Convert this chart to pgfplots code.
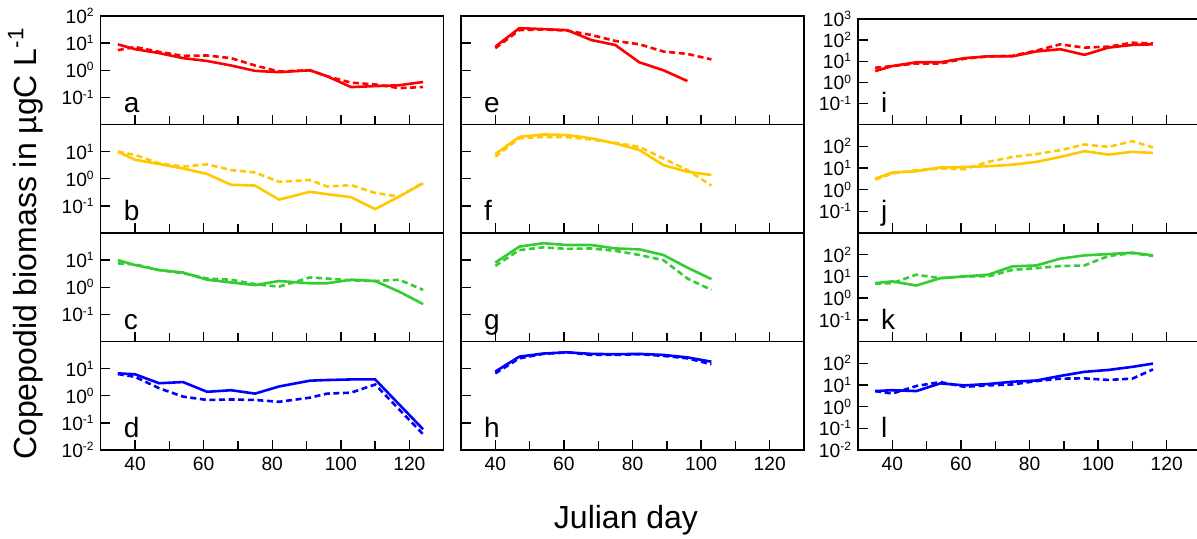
\documentclass[border=0pt]{standalone}
\usepackage{fontspec}
\setmainfont{Liberation Sans}
\usepackage{pgfplots}
\pgfplotsset{compat=1.18}

\definecolor{cred}{RGB}{255,0,0}
\definecolor{cyel}{RGB}{255,200,0}
\definecolor{cgrn}{RGB}{50,205,50}
\definecolor{cblu}{RGB}{0,0,255}

% tick label 10^n in the text font
\newcommand\tenp[1]{10\raisebox{3.4pt}{\fontsize{6}{6}\selectfont#1}}

\pgfplotsset{
  cpanel/.style={
    scale only axis, width=171.5pt, height=54.25pt, anchor=south west,
    xmin=30, xmax=130, ymin=0.01, ymax=100,
    xtick={40,60,80,100,120}, minor xtick={50,70,90,110},
    xticklabels={}, ytick={0.1,1,10}, yticklabels={},
    xtick pos=left, ytick pos=left, tick align=inside,
    major tick length=4.8pt, minor tick length=4.3pt, yminorticks=false,
    axis line style={line width=0.7pt},
    tick style={black, line width=0.7pt},
    tick label style={font=\fontsize{9.6}{10}\selectfont},
  },
  cthird/.style={ymin=0.01, ymax=1000, ytick={0.1,1,10,100},
    yticklabels={\tenp{-1},\tenp{0},\tenp{1},\tenp{2}}},
  cbottom/.style={xticklabels={40,60,80,100,120}},
  csol/.style={line width=1.3pt, no marks},
  cdas/.style={line width=1.3pt, no marks, dash pattern=on 3pt off 1.8pt},
}
\tikzset{plet/.style={anchor=base west, font=\fontsize{14}{16}\selectfont}}

\begin{document}
\begin{tikzpicture}

%%%%% column 1
\begin{semilogyaxis}[cpanel, at={(50.35pt,206.75pt)}, ytick={0.1,1,10,100},
  yticklabels={\tenp{-1},\tenp{0},\tenp{1},\tenp{2}}]
\addplot[csol, cred] coordinates {(35,9) (40,6) (47,4.3) (54,2.8) (61,2.2) (68,1.5) (75,0.95) (82,0.85) (91,1.0) (96,0.6) (103,0.24) (110,0.26) (117,0.28) (124,0.37)};
\addplot[cdas, cred] coordinates {(35,5.5) (40,7.2) (47,4.8) (54,3.4) (61,3.5) (68,2.8) (75,1.5) (82,0.9) (91,1.0) (96,0.6) (103,0.35) (110,0.3) (117,0.22) (124,0.24)};
\node[plet] at (rel axis cs:0.047,0.115) {a};
\end{semilogyaxis}

\begin{semilogyaxis}[cpanel, at={(50.35pt,152.5pt)}, yticklabels={\tenp{-1},\tenp{0},\tenp{1}}]
\addplot[csol, cyel] coordinates {(35,10) (40,5) (47,3.5) (54,2.4) (61,1.5) (68,0.6) (75,0.56) (82,0.17) (91,0.33) (96,0.27) (103,0.21) (110,0.076) (117,0.22) (124,0.68)};
\addplot[cdas, cyel] coordinates {(35,10) (40,7.6) (47,3.7) (54,2.8) (61,3.4) (68,2.1) (75,1.7) (82,0.77) (91,0.9) (96,0.52) (103,0.58) (110,0.30) (117,0.22) (124,0.72)};
\node[plet] at (rel axis cs:0.047,0.115) {b};
\end{semilogyaxis}

\begin{semilogyaxis}[cpanel, at={(50.35pt,98.25pt)}, yticklabels={\tenp{-1},\tenp{0},\tenp{1}}]
\addplot[csol, cgrn] coordinates {(35,10) (40,6.6) (47,4.3) (54,3.5) (61,1.9) (68,1.5) (75,1.2) (82,1.7) (91,1.4) (96,1.4) (103,1.9) (110,1.7) (117,0.69) (124,0.24)};
\addplot[cdas, cgrn] coordinates {(35,7.6) (40,7) (47,4.3) (54,3.3) (61,2.1) (68,1.9) (75,1.3) (82,1.05) (91,2.3) (96,2.1) (103,1.8) (110,1.7) (117,1.9) (124,0.8)};
\node[plet] at (rel axis cs:0.047,0.115) {c};
\end{semilogyaxis}

\begin{semilogyaxis}[cpanel, cbottom, at={(50.35pt,44pt)}, ytick={0.01,0.1,1,10},
  yticklabels={\tenp{-2},\tenp{-1},\tenp{0},\tenp{1}}]
\addplot[csol, cblu] coordinates {(35,6.7) (40,6.2) (47,2.9) (54,3.2) (61,1.4) (68,1.6) (75,1.2) (82,2.2) (91,3.6) (96,3.8) (103,4.0) (110,4.0) (124,0.058)};
\addplot[cdas, cblu] coordinates {(35,6.3) (40,5.0) (47,1.9) (54,0.93) (61,0.7) (68,0.73) (75,0.7) (82,0.6) (91,0.85) (96,1.2) (103,1.3) (110,2.6) (124,0.038)};
\node[plet] at (rel axis cs:0.047,0.115) {d};
\end{semilogyaxis}

%%%%% column 2
\begin{semilogyaxis}[cpanel, at={(230.5pt,206.75pt)}]
\addplot[csol, cred] coordinates {(40,7.4) (47,35.6) (54,33) (61,30) (68,13) (75,8.5) (82,1.96) (89,1.0) (96,0.40)};
\addplot[cdas, cred] coordinates {(40,6.5) (47,30) (54,32) (61,29) (68,20) (75,12) (82,9.1) (89,4.9) (96,4.0) (103,2.5)};
\node[plet] at (rel axis cs:0.047,0.115) {e};
\end{semilogyaxis}

\begin{semilogyaxis}[cpanel, at={(230.5pt,152.5pt)}]
\addplot[csol, cyel] coordinates {(40,8.1) (47,35) (54,43) (61,41) (68,31) (75,20) (82,11.5) (89,3.2) (96,1.8) (103,1.38)};
\addplot[cdas, cyel] coordinates {(40,6.5) (47,31) (54,35) (61,34) (68,28) (75,21) (82,15) (89,5.6) (96,2.1) (103,0.56)};
\node[plet] at (rel axis cs:0.047,0.115) {f};
\end{semilogyaxis}

\begin{semilogyaxis}[cpanel, at={(230.5pt,98.25pt)}]
\addplot[csol, cgrn] coordinates {(40,8.1) (47,31.5) (54,42) (61,36) (68,36) (75,27) (82,25) (89,15.5) (96,5.3) (103,2.0)};
\addplot[cdas, cgrn] coordinates {(40,6.1) (47,23.5) (54,29.5) (61,26) (68,27) (75,22) (82,15.5) (89,10) (96,2.1) (103,0.8)};
\node[plet] at (rel axis cs:0.047,0.115) {g};
\end{semilogyaxis}

\begin{semilogyaxis}[cpanel, cbottom, at={(230.5pt,44pt)}]
\addplot[csol, cblu] coordinates {(40,7.8) (47,27.7) (54,36) (61,40) (68,35) (75,34) (82,35) (89,32) (96,26) (103,18)};
\addplot[cdas, cblu] coordinates {(40,6.7) (47,24) (54,35) (61,40) (68,32) (75,32) (82,34) (89,29.5) (96,24) (103,14.5)};
\node[plet] at (rel axis cs:0.047,0.115) {h};
\end{semilogyaxis}

%%%%% column 3
\begin{semilogyaxis}[cpanel, cthird, at={(429pt,206.75pt)}, height=52.75pt,
  ytick={0.1,1,10,100,1000}, yticklabels={\tenp{-1},\tenp{0},\tenp{1},\tenp{2},\tenp{3}}]
\addplot[csol, cred] coordinates {(35,3.4) (40,5.9) (47,8.9) (54,8.9) (61,14) (68,17) (75,17) (82,29) (89,37) (96,20) (103,44) (110,59) (116,63)};
\addplot[cdas, cred] coordinates {(35,4.9) (40,5.9) (47,7.8) (54,7.8) (61,13) (68,17) (75,18) (82,32) (89,63) (96,44) (103,49) (110,75) (116,70)};
\node[plet] at (rel axis cs:0.047,0.118) {i};
\end{semilogyaxis}

\begin{semilogyaxis}[cpanel, cthird, at={(429pt,152.5pt)}]
\addplot[csol, cyel] coordinates {(35,3.2) (40,6.1) (47,7) (54,10.5) (61,11) (68,12) (75,14) (82,19) (89,32) (96,59) (103,41) (110,55) (116,49)};
\addplot[cdas, cyel] coordinates {(35,2.9) (40,5.5) (47,7.8) (54,9.3) (61,8.7) (68,19) (75,32) (82,43) (89,66) (96,120) (103,93) (110,170) (116,87)};
\node[plet] at (rel axis cs:0.047,0.115) {j};
\end{semilogyaxis}

\begin{semilogyaxis}[cpanel, cthird, at={(429pt,98.25pt)}]
\addplot[csol, cgrn] coordinates {(35,4.9) (40,5.9) (47,3.8) (54,8.3) (61,10) (68,12) (75,29) (82,32) (89,66) (96,93) (103,107) (110,124) (116,93)};
\addplot[cdas, cgrn] coordinates {(35,4.6) (40,4.9) (47,12) (54,8.3) (61,10) (68,10) (75,20) (82,24) (89,30) (96,32) (103,87) (110,119) (116,87)};
\node[plet] at (rel axis cs:0.047,0.115) {k};
\end{semilogyaxis}

\begin{semilogyaxis}[cpanel, cthird, cbottom, at={(429pt,44pt)},
  ytick={0.01,0.1,1,10,100}, yticklabels={\tenp{-2},\tenp{-1},\tenp{0},\tenp{1},\tenp{2}}]
\addplot[csol, cblu] coordinates {(35,5.2) (40,5.7) (47,5.2) (54,11.8) (61,9.5) (68,11) (75,14) (82,16) (89,26) (96,40) (103,49) (110,68) (116,96)};
\addplot[cdas, cblu] coordinates {(35,5.2) (40,4.0) (47,8.9) (54,13.5) (61,8.2) (68,9.5) (75,10.5) (82,15) (89,19.5) (96,20) (103,17) (110,19.5) (116,52)};
\node[plet] at (rel axis cs:0.047,0.115) {l};
\end{semilogyaxis}

%%%%% axis titles
\node[anchor=base, font=\fontsize{16}{18}\selectfont] at (313pt,5pt) {Julian day};
\node[anchor=base, rotate=90, font=\fontsize{16}{18}\selectfont] at (18pt,147.25pt)
  {Copepodid biomass in µgC L\textsuperscript{-1}};

\pgfresetboundingbox
\path[use as bounding box] (0,0) rectangle (598.5pt,269pt);
\end{tikzpicture}
\end{document}
